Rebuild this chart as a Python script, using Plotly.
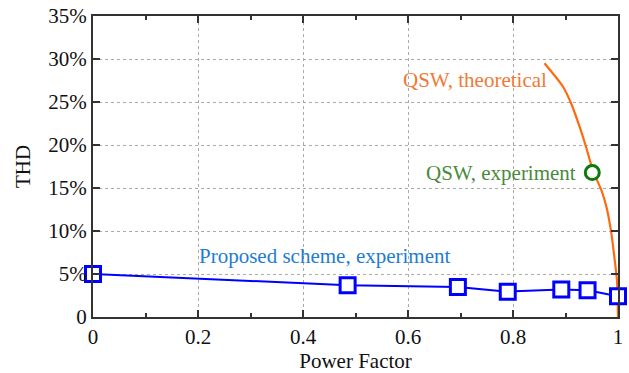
import plotly.graph_objects as go

# Proposed scheme, measured THD versus power factor
pf_exp = [0.0, 0.485, 0.695, 0.79, 0.892, 0.942, 1.0]
thd_exp = [5.0, 3.7, 3.5, 2.95, 3.2, 3.1, 2.4]

# Quasi-square-wave (QSW) theoretical curve
pf_qsw = [0.86, 0.895, 0.911, 0.927, 0.939, 0.949, 0.958, 0.968, 0.978, 0.987, 0.993, 0.998, 1.0]
thd_qsw = [29.5, 26.8, 24.8, 22.1, 19.8, 17.7, 16.2, 14.8, 12.8, 9.9, 7.0, 4.3, 0.0]

# QSW experimental point
pf_qsw_exp = [0.951]
thd_qsw_exp = [16.8]

y_ticks = [0, 5, 10, 15, 20, 25, 30, 35]
y_labels = ["0", "5%", "10%", "15%", "20%", "25%", "30%", "35%"]
x_ticks = [0, 0.2, 0.4, 0.6, 0.8, 1]
x_labels = ["0", "0.2", "0.4", "0.6", "0.8", "1"]

FONT = "'Liberation Serif', 'Times New Roman', Times, serif"
FS = 21

fig = go.Figure()
fig.add_trace(go.Scatter(
    x=pf_qsw, y=thd_qsw, mode="lines",
    line=dict(color="#FF6A10", width=2.2, shape="spline", smoothing=0.6),
    cliponaxis=False, showlegend=False,
))
fig.add_trace(go.Scatter(
    x=pf_exp, y=thd_exp, mode="lines+markers",
    line=dict(color="#0000FF", width=2),
    marker=dict(symbol="square", size=15, color="white",
                line=dict(color="#0000FF", width=3)),
    cliponaxis=False, showlegend=False,
))
fig.add_trace(go.Scatter(
    x=pf_qsw_exp, y=thd_qsw_exp, mode="markers",
    marker=dict(symbol="circle", size=14, color="white",
                line=dict(color="#0B7A0B", width=3)),
    cliponaxis=False, showlegend=False,
))

fig.add_annotation(x=0.868, y=27.6, text="QSW, theoretical", showarrow=False,
                   xanchor="right", yanchor="middle",
                   font=dict(family=FONT, size=FS, color="#F07A35"))
fig.add_annotation(x=0.923, y=16.8, text="QSW, experiment", showarrow=False,
                   xanchor="right", yanchor="middle",
                   font=dict(family=FONT, size=FS, color="#4A8A3A"))
fig.add_annotation(x=0.198, y=7.1, text="Proposed scheme, experiment", showarrow=False,
                   xanchor="left", yanchor="middle",
                   font=dict(family=FONT, size=FS, color="#1E7CD2"))

axis_common = dict(
    showline=True, linecolor="#333333", linewidth=2, mirror="allticks",
    ticks="inside", tickcolor="#333333", tickwidth=2, ticklen=7,
    showgrid=True, gridcolor="#AAAAAA", griddash="dot", gridwidth=1,
    zeroline=False, automargin=False,
    tickfont=dict(family=FONT, size=FS, color="#111111"),
)

fig.update_xaxes(
    range=[0, 1], tickvals=x_ticks, ticktext=x_labels,
    minor=dict(dtick=0.1, tick0=0, ticks="inside", ticklen=4, tickwidth=2,
               tickcolor="#333333", showgrid=False),
    title=dict(text="Power Factor", font=dict(family=FONT, size=FS, color="#111111"),
               standoff=4),
    **axis_common,
)
fig.update_yaxes(
    range=[0, 35], tickvals=y_ticks, ticktext=y_labels,
    title=dict(text="THD", font=dict(family=FONT, size=FS, color="#111111"),
               standoff=12),
    **axis_common,
)

fig.update_layout(
    width=629, height=373,
    margin=dict(l=93, r=11, t=16, b=56, autoexpand=False),
    plot_bgcolor="white", paper_bgcolor="white",
    font=dict(family=FONT, size=FS),
)

fig.write_html("out.html")
